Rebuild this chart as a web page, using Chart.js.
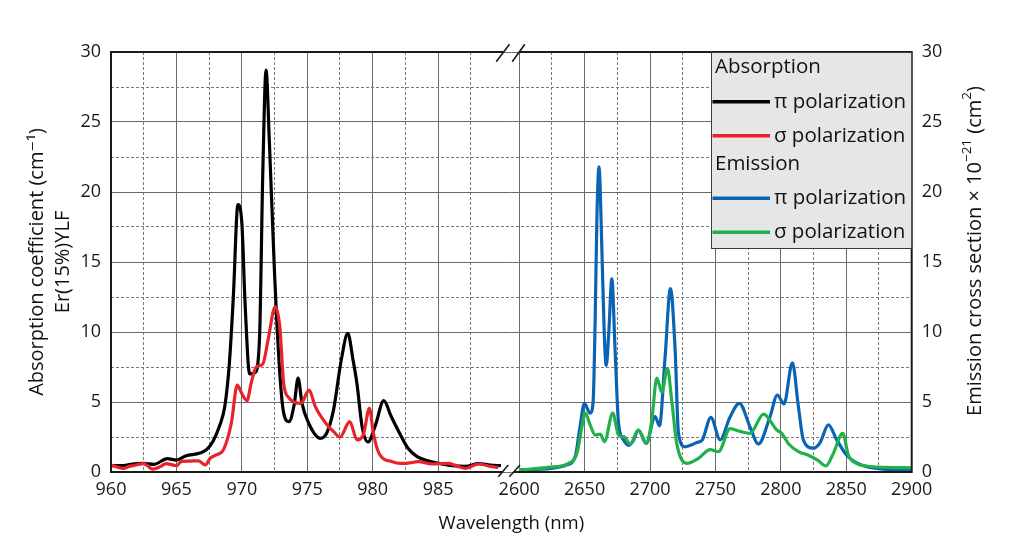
<!DOCTYPE html>
<html>
<head>
<meta charset="utf-8">
<script src="https://cdn.jsdelivr.net/npm/chart.js@4.4.1/dist/chart.umd.min.js"></script>
<style>
html,body{margin:0;padding:0;background:#fff;}
#wrap{width:1024px;height:542px;position:relative;}
</style>
</head>
<body>
<div id="wrap"><canvas id="c" width="1024" height="542"></canvas></div>
<script>
// ---------- data (wavelength nm, value) ----------
const absPiX = [960.0,960.8,961.5,962.5,963.3,964.3,965.0,965.7,966.8,967.3,967.8,968.3,968.7,969.05,969.35,969.7,970.0,970.25,970.6,971.0,971.35,971.6,971.85,972.1,972.5,972.9,973.2,973.6,974.0,974.3,974.6,975.1,976.0,976.5,977.0,977.6,978.1,978.5,978.8,979.2,979.65,980.2,980.85,981.4,982.1,982.7,983.4,984.2,985.2,986.1,987.1,988.1,989.0,989.8];
const absPiY = [0.45,0.45,0.55,0.62,0.55,0.95,0.85,1.15,1.35,1.6,2.2,3.3,4.7,7.8,12.5,19.1,17.8,12.0,7.0,7.1,9.5,21.3,28.7,23.7,14.2,7.1,4.2,3.6,4.8,6.7,4.9,3.5,2.4,2.8,4.4,8.0,9.9,8.0,6.3,3.2,2.15,3.3,5.1,4.0,2.7,1.7,1.1,0.8,0.6,0.45,0.4,0.6,0.5,0.45];

const absSigmaX = [960.0,960.5,960.95,961.4,961.7,962.5,963.2,963.8,964.2,965.0,965.4,966.0,966.7,967.2,967.6,968.0,968.6,969.2,969.65,970.0,970.4,970.7,971.1,971.6,972.0,972.55,972.9,973.2,973.6,974.0,974.5,975.15,975.6,976.4,977.0,977.5,978.25,978.8,979.3,979.75,980.05,980.5,981.5,982.1,982.5,983.5,984.5,985.8,986.5,987.1,988.1,989.0,989.6];
const absSigmaY = [0.5,0.35,0.26,0.4,0.45,0.6,0.2,0.4,0.6,0.45,0.76,0.78,0.8,0.5,1.0,1.2,1.6,3.5,6.2,5.6,5.1,6.3,7.5,7.7,9.4,11.8,10.4,6.3,5.3,5.0,4.9,5.85,4.7,3.5,2.9,2.5,3.6,2.3,2.7,4.55,2.8,1.3,0.74,0.62,0.62,0.74,0.57,0.62,0.4,0.26,0.57,0.4,0.33];

const emPiX = [2600,2624,2636,2642.8,2646.6,2649.8,2654.2,2656.5,2658.1,2659.4,2661.0,2663.2,2665.0,2666.5,2668.5,2670.8,2673.3,2675.9,2679.7,2683.5,2687,2691.1,2697,2703.9,2707.2,2711.5,2715.6,2719.2,2721.7,2726.8,2735.7,2740,2746.5,2753.6,2761,2768.3,2776.5,2782.8,2791.7,2797.3,2802.4,2808.8,2813.4,2817.2,2824.8,2830,2836.3,2842.7,2850.3,2858,2865.6,2880.9,2900];
const emPiY = [0.15,0.26,0.5,1.1,3.3,4.9,4.2,5.0,11.1,18.2,21.8,15.9,9.9,7.6,10.0,13.8,8.7,3.5,2.3,1.9,2.2,3.0,2.05,3.95,3.3,8.2,13.1,8.7,2.8,1.8,2.1,2.3,3.9,2.3,3.9,4.9,3.2,2.0,3.95,5.5,4.86,7.8,4.67,2.3,1.7,2.1,3.36,2.3,1.2,0.65,0.38,0.19,0.1];

const emSigmaX = [2600,2622.4,2637.7,2644.1,2647.9,2650.4,2654.5,2658.1,2661.9,2665.2,2671.5,2675.9,2680.5,2684.8,2691.1,2697.5,2701.3,2705.2,2709,2713.3,2716.6,2720.4,2728.1,2737,2745.9,2752.3,2761.2,2768.8,2776.5,2786.7,2796.9,2800.6,2806,2813.4,2821,2828,2834.5,2840.1,2847.3,2851.6,2858,2865.6,2880,2900];
const emSigmaY = [0.14,0.33,0.62,1.33,3.2,4.2,3.3,2.64,2.7,2.17,4.2,2.64,2.5,2.0,3.0,2.05,3.7,6.7,5.7,7.4,5.1,2.05,0.62,0.98,1.6,1.45,3.1,2.9,2.76,4.14,3.0,2.76,2.0,1.45,1.2,0.85,0.43,1.33,2.76,1.2,0.6,0.43,0.33,0.3];

// ---------- tick labels ----------
const leftTickLabels = [960, 965, 970, 975, 980, 985];
const rightTickLabels = [2600, 2650, 2700, 2750, 2800, 2850, 2900];
const yTickLabels = [0, 5, 10, 15, 20, 25, 30];
const legendHeaders = ['Absorption', 'Emission'];
const seriesNames = ['\u03c0 polarization', '\u03c3 polarization', '\u03c0 polarization', '\u03c3 polarization'];

// ---------- broken-axis geometry ----------
const LEFT_MIN = 960, LEFT_MAX = 1021.2;       // left-part axis (1 unit = 1 nm)
const RATIO = 10;                               // right part is compressed 10x
const RIGHT_MAX = 2900, RIGHT_MIN = RIGHT_MAX - (LEFT_MAX - LEFT_MIN) * RATIO;
const BREAK_LEFT = 990, BREAK_RIGHT = 2600;

const FONT = '"Open Sans", "DejaVu Sans", sans-serif';
const toPts = (xs, ys) => xs.map((x, i) => ({x: x, y: ys[i]}));

const colors = ['#000000', '#e8232a', '#0a64b4', '#22b04b'];

function gridDash(ctx) {
  return (ctx.type === 'tick' && ctx.tick && ctx.tick.minor) ? [3, 2] : [];
}
function gridColor(ctx) {
  return (ctx.tick && ctx.tick.minor) ? '#7a7a7a' : '#6a6a6a';
}

const framePlugin = {
  id: 'frameLegend',
  afterDraw(chart) {
    const {ctx, chartArea: a, scales} = chart;
    const bx1 = scales.x.getPixelForValue(BREAK_LEFT);
    const bx2 = scales.x2.getPixelForValue(BREAK_RIGHT);
    ctx.save();
    // frame
    ctx.strokeStyle = '#1a1a1a';
    ctx.lineWidth = 2;
    ctx.beginPath();
    ctx.moveTo(a.left, a.top - 1); ctx.lineTo(a.left, a.bottom + 1);
    ctx.moveTo(a.right, a.top - 1); ctx.lineTo(a.right, a.bottom + 1);
    ctx.moveTo(a.left - 1, a.top); ctx.lineTo(bx1, a.top);
    ctx.moveTo(bx2, a.top); ctx.lineTo(a.right + 1, a.top);
    ctx.moveTo(a.left - 1, a.bottom); ctx.lineTo(bx1 - 1.2, a.bottom);
    ctx.moveTo(bx2 - 5.6, a.bottom); ctx.lineTo(a.right + 1, a.bottom);
    ctx.stroke();
    // break marks
    ctx.lineWidth = 1.6;
    ctx.beginPath();
    ctx.moveTo(bx1 - 7.3, a.top + 9.7); ctx.lineTo(bx1 + 6, a.top - 7.7);
    ctx.moveTo(bx2 - 7, a.top + 9.7); ctx.lineTo(bx2 + 5.6, a.top - 7.7);
    ctx.moveTo(bx1 - 5.2, a.bottom + 4.7); ctx.lineTo(bx1 + 4.8, a.bottom - 7);
    ctx.moveTo(bx2 - 9.9, a.bottom + 4.7); ctx.lineTo(bx2 + 0.8, a.bottom - 7);
    ctx.stroke();

    // legend box
    const lx = 711.5, ly = a.top, lw = a.right - lx, lh = 196.5;
    ctx.fillStyle = '#e6e6e6';
    ctx.fillRect(lx, ly, lw, lh);
    ctx.strokeStyle = '#3a3a3a';
    ctx.lineWidth = 1;
    ctx.strokeRect(lx, ly + 0.5, lw, lh - 0.5);
    ctx.font = '20.5px ' + FONT;
    ctx.textBaseline = 'middle';
    ctx.textAlign = 'left';
    ctx.fillStyle = '#111';
    const ds = chart.data.datasets;
    const rows = [
      {h: legendHeaders[0], y: 67.5},
      {d: 0, y: 101.7},
      {d: 1, y: 135.7},
      {h: legendHeaders[1], y: 164.3},
      {d: 2, y: 198.3},
      {d: 3, y: 232.3}
    ];
    rows.forEach(r => {
      if (r.h) {
        ctx.fillStyle = '#111';
        ctx.fillText(r.h, 715, r.y);
      } else {
        ctx.strokeStyle = ds[r.d].borderColor;
        ctx.lineWidth = 3.4;
        ctx.beginPath();
        ctx.moveTo(712.5, r.y); ctx.lineTo(770, r.y);
        ctx.stroke();
        ctx.fillStyle = '#111';
        ctx.fillText(ds[r.d].label, 774, r.y);
      }
    });

    // right axis title (reads bottom-to-top)
    const segs = [['Emission cross section \u00d7 10', false], ['\u221221', true], [' (cm', false], ['2', true], [')', false]];
    const mainF = '20px ' + FONT, supF = '13.5px ' + FONT;
    let total = 0;
    segs.forEach(s => { ctx.font = s[1] ? supF : mainF; total += ctx.measureText(s[0]).width; });
    ctx.translate(975, 251);
    ctx.rotate(-Math.PI / 2);
    ctx.fillStyle = '#111';
    ctx.textBaseline = 'middle';
    let px = -total / 2;
    segs.forEach(s => {
      ctx.font = s[1] ? supF : mainF;
      ctx.fillText(s[0], px, s[1] ? -8 : 0);
      px += ctx.measureText(s[0]).width;
    });
    ctx.restore();
  }
};

function buildXTicks(scale) {
  const t = [];
  leftTickLabels.forEach((v, i) => {
    t.push({value: v, minor: false, lbl: String(v)});
    t.push({value: v + 2.5, minor: true, lbl: ''});
  });
  rightTickLabels.forEach((w, i) => {
    t.push({value: LEFT_MIN + (w - RIGHT_MIN) / RATIO, minor: false, lbl: String(w)});
    if (i < rightTickLabels.length - 1) {
      t.push({value: LEFT_MIN + (w + 25 - RIGHT_MIN) / RATIO, minor: true, lbl: ''});
    }
  });
  scale.ticks = t;
}

const tickFont = {family: FONT, size: 18};

new Chart(document.getElementById('c'), {
  type: 'line',
  data: {
    datasets: [
      {label: seriesNames[0], data: toPts(absPiX, absPiY), borderColor: colors[0], xAxisID: 'x', yAxisID: 'y'},
      {label: seriesNames[1], data: toPts(absSigmaX, absSigmaY), borderColor: colors[1], xAxisID: 'x', yAxisID: 'y'},
      {label: seriesNames[2], data: toPts(emPiX, emPiY), borderColor: colors[2], xAxisID: 'x2', yAxisID: 'y2'},
      {label: seriesNames[3], data: toPts(emSigmaX, emSigmaY), borderColor: colors[3], xAxisID: 'x2', yAxisID: 'y2'}
    ].map((d, i) => Object.assign(d, {
      borderWidth: 3.2, pointRadius: 0, fill: false,
      cubicInterpolationMode: 'monotone', order: 4 - i
    }))
  },
  options: {
    responsive: false,
    devicePixelRatio: 1,
    animation: false,
    events: [],
    layout: {padding: {top: 52, left: 0, right: 0, bottom: 0}},
    plugins: {legend: {display: false}, tooltip: {enabled: false}, title: {display: false}},
    scales: {
      x: {
        type: 'linear', position: 'bottom', min: LEFT_MIN, max: LEFT_MAX,
        afterBuildTicks: buildXTicks,
        afterFit: s => { s.height = 70; },
        ticks: {autoSkip: false, maxRotation: 0, padding: 7, color: '#1a1a1a', font: tickFont,
                callback: (v, i, ticks) => ticks[i].lbl},
        grid: {drawTicks: false, color: gridColor, lineWidth: 1},
        border: {display: false, dash: gridDash},
        title: {display: true, text: 'Wavelength (nm)', color: '#111',
                font: {family: FONT, size: 18.5}, padding: {top: 0, bottom: 7}}
      },
      x2: {
        type: 'linear', display: false, min: RIGHT_MIN, max: RIGHT_MAX
      },
      y: {
        type: 'linear', position: 'left', min: 0, max: 30,
        afterFit: s => { s.width = 111; },
        ticks: {stepSize: 2.5, padding: 10, color: '#1a1a1a', font: tickFont,
                callback: v => yTickLabels.includes(v) ? String(v) : ''},
        grid: {drawTicks: false, color: c => (c.tick && yTickLabels.includes(c.tick.value)) ? '#6a6a6a' : '#7a7a7a', lineWidth: 1},
        border: {display: false, dash: c => (c.type === 'tick' && c.tick && !yTickLabels.includes(c.tick.value)) ? [3, 2] : []},
        title: {display: true, text: ['Absorption coefficient (cm\u207b\u00b9)', 'Er(15%)YLF'], color: '#111',
                font: {family: FONT, size: 20, lineHeight: 1.3}, padding: {top: 24, bottom: 0}}
      },
      y2: {
        type: 'linear', position: 'right', min: 0, max: 30,
        afterFit: s => { s.width = 1024 - 911.7; },
        ticks: {stepSize: 2.5, padding: 10, color: '#1a1a1a', font: tickFont,
                callback: v => yTickLabels.includes(v) ? String(v) : ''},
        grid: {drawTicks: false, drawOnChartArea: false},
        border: {display: false}
      }
    }
  },
  plugins: [framePlugin]
});
</script>
</body>
</html>
